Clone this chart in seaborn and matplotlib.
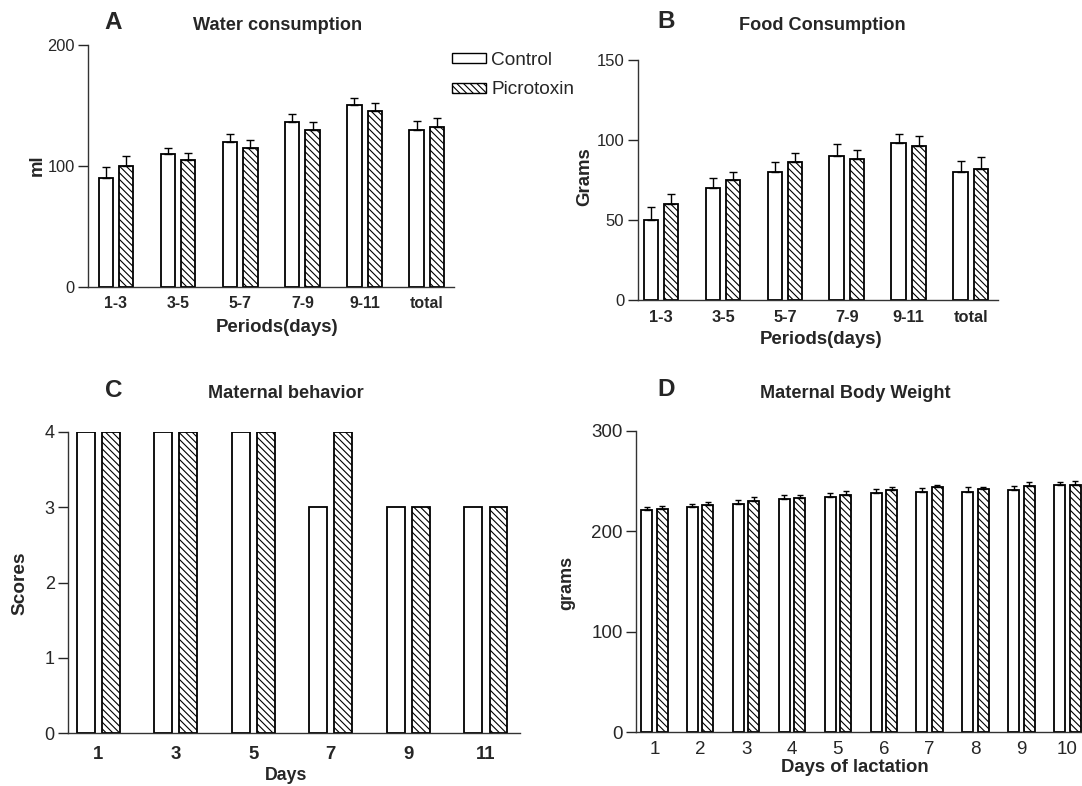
import numpy as np
import pandas as pd
import matplotlib
matplotlib.use("Agg")
import matplotlib.pyplot as plt
from matplotlib.patches import Patch
import seaborn as sns

# -----------------------------
# 1. DATA
# -----------------------------
groups = ["Control", "Picrotoxin"]

periods = ["1-3", "3-5", "5-7", "7-9", "9-11", "total"]
water_ctrl = [90, 110, 120, 136, 150, 130]
water_ctrl_err = [9, 5, 6, 7, 6, 7]
water_pic = [100, 105, 115, 130, 145, 132]
water_pic_err = [8, 6, 6, 6, 7, 8]

food_ctrl = [50, 70, 80, 90, 98, 80]
food_ctrl_err = [8, 6, 6, 7.5, 6, 7]
food_pic = [60, 75, 86, 88, 96, 82]
food_pic_err = [6, 5, 6, 6, 6.5, 7.5]

behav_days = ["1", "3", "5", "7", "9", "11"]
score_ctrl = [4, 4, 4, 3, 3, 3]
score_pic = [4, 4, 4, 4, 3, 3]

lact_days = ["1", "2", "3", "4", "5", "6", "7", "8", "9", "10"]
weight_ctrl = [221, 224, 227, 232, 234, 238, 239, 239, 241, 246]
weight_ctrl_err = [3.5, 3.5, 4, 4.5, 4, 4, 4.5, 5, 4.5, 3]
weight_pic = [222, 226, 230, 233, 236, 241, 244, 242, 245, 246]
weight_pic_err = [3.5, 3.5, 4.5, 3.5, 4, 3.5, 2.5, 2.5, 4, 4]

HATCH = "\\\\\\\\\\"

# -----------------------------
# 2. STYLE
# -----------------------------
sns.set_style("ticks")
plt.rcParams["font.family"] = ["Liberation Sans", "DejaVu Sans"]
plt.rcParams["hatch.linewidth"] = 0.8
plt.rcParams["axes.edgecolor"] = "#333333"
plt.rcParams["axes.linewidth"] = 1.0

W, H = 1082, 786
fig = plt.figure(figsize=(W / 100, H / 100), dpi=100)


def axes_px(left, top, right, bottom):
    return fig.add_axes([left / W, 1 - bottom / H, (right - left) / W, (bottom - top) / H])


def draw_panel(ax, cats, ctrl, pic, ctrl_err=None, pic_err=None,
               width=0.652, gap=0.295, capsize=2.9):
    df = pd.DataFrame({
        "cat": cats + cats,
        "value": ctrl + pic,
        "group": [groups[0]] * len(cats) + [groups[1]] * len(cats),
    })
    sns.barplot(data=df, x="cat", y="value", hue="group", hue_order=groups,
                palette={"Control": "white", "Picrotoxin": "white"},
                edgecolor="black", linewidth=1.3, width=width, gap=gap,
                errorbar=None, legend=False, ax=ax)
    for p in ax.containers[1]:
        p.set_hatch(HATCH)
    if ctrl_err is not None:
        for cont, err in zip(ax.containers, [ctrl_err, pic_err]):
            xs = [p.get_x() + p.get_width() / 2 for p in cont]
            ys = [p.get_height() for p in cont]
            ax.errorbar(xs, ys, yerr=[np.zeros(len(err)), err], fmt="none",
                        ecolor="black", elinewidth=1.0, capsize=capsize,
                        capthick=1.0, zorder=1)
    sns.despine(ax=ax)
    ax.tick_params(axis="x", length=0)
    ax.tick_params(axis="y", length=7.5, width=1.0, direction="out", pad=2)


def labels(ax, xlabel, xl, ylabel, yl, xsize=13.4, ysize=13.4):
    ax.set_xlabel(xlabel, fontsize=xsize, fontweight="bold", va="center")
    ax.set_ylabel(ylabel, fontsize=ysize, fontweight="bold", va="center")
    ax.xaxis.set_label_coords(*xl)
    ax.yaxis.set_label_coords(*yl)


def panel_text(ax, letter, lpos, title, tpos, tsize=13.1):
    ax.text(*lpos, letter, transform=ax.transAxes, ha="center", va="center",
            fontsize=17.5, fontweight="bold")
    ax.text(*tpos, title, transform=ax.transAxes, ha="center", va="center",
            fontsize=tsize, fontweight="bold")


def to_axes(ax_box, x, y):
    left, top, right, bottom = ax_box
    return ((x - left) / (right - left), (bottom - y) / (bottom - top))


# -----------------------------
# 3. PANEL A - WATER
# -----------------------------
boxA = (88, 45, 454, 286.7)
axA = axes_px(*boxA)
draw_panel(axA, periods, water_ctrl, water_pic, water_ctrl_err, water_pic_err)
axA.set_xlim(-0.45, 5.44)
axA.set_ylim(0, 200)
axA.set_yticks([0, 100, 200])
axA.tick_params(axis="y", labelsize=11.8)
axA.tick_params(axis="x", labelsize=11.4, pad=7)
for t in axA.get_xticklabels():
    t.set_fontweight("bold")
labels(axA, "Periods(days)", to_axes(boxA, 277, 328), "ml", to_axes(boxA, 37, 165))
panel_text(axA, "A", to_axes(boxA, 113, 22.5), "Water consumption", to_axes(boxA, 277.5, 26))

legend_handles = [
    Patch(facecolor="white", edgecolor="black", linewidth=1.0, label="Control"),
    Patch(facecolor="white", edgecolor="black", linewidth=1.0, hatch=HATCH, label="Picrotoxin"),
]
axA.legend(handles=legend_handles, loc="upper left", frameon=False,
           bbox_to_anchor=(451.7 / W, 1 - 52 / H), bbox_transform=fig.transFigure,
           borderpad=0, borderaxespad=0, handlelength=1.79, handleheight=0.42,
           handletextpad=0.3, labelspacing=0.65, fontsize=13.7)

# -----------------------------
# 4. PANEL B - FOOD
# -----------------------------
boxB = (637.5, 60, 998, 300)
axB = axes_px(*boxB)
draw_panel(axB, periods, food_ctrl, food_pic, food_ctrl_err, food_pic_err,
           width=0.652, gap=0.28)
axB.set_xlim(-0.38, 5.44)
axB.set_ylim(0, 150)
axB.set_yticks([0, 50, 100, 150])
axB.tick_params(axis="y", labelsize=12)
axB.tick_params(axis="x", labelsize=11.8, pad=7)
for t in axB.get_xticklabels():
    t.set_fontweight("bold")
labels(axB, "Periods(days)", to_axes(boxB, 820.7, 340), "Grams", to_axes(boxB, 585, 176.7))
panel_text(axB, "B", to_axes(boxB, 666, 21.7), "Food Consumption", to_axes(boxB, 822.7, 26))

# -----------------------------
# 5. PANEL C - MATERNAL BEHAVIOUR
# -----------------------------
boxC = (68, 431.7, 520, 733.3)
axC = axes_px(*boxC)
draw_panel(axC, behav_days, score_ctrl, score_pic, width=0.652, gap=0.29)
axC.set_xlim(-0.39, 5.44)
axC.set_ylim(0, 4)
axC.set_yticks([0, 1, 2, 3, 4])
axC.tick_params(axis="y", labelsize=13)
axC.tick_params(axis="x", labelsize=13.4, pad=9)
for t in axC.get_xticklabels():
    t.set_fontweight("bold")
labels(axC, "Days", to_axes(boxC, 285.8, 775), "Scores", to_axes(boxC, 20, 583.3),
       xsize=12.8, ysize=13.7)
panel_text(axC, "C", to_axes(boxC, 113.6, 390), "Maternal behavior", to_axes(boxC, 285.8, 393.3))

# -----------------------------
# 6. PANEL D - BODY WEIGHT
# -----------------------------
boxD = (636, 431, 1082, 732.3)
axD = axes_px(*boxD)
draw_panel(axD, lact_days, weight_ctrl, weight_pic, weight_ctrl_err, weight_pic_err,
           width=0.676, gap=0.29, capsize=2.2)
axD.set_xlim(-0.4, 9.32)
axD.set_ylim(0, 300)
axD.set_yticks([0, 100, 200, 300])
axD.tick_params(axis="y", labelsize=13.5)
axD.tick_params(axis="x", labelsize=13.5, pad=6)
labels(axD, "Days of lactation", to_axes(boxD, 855, 767), "grams", to_axes(boxD, 567, 583.3),
       xsize=13.3, ysize=13)
panel_text(axD, "D", to_axes(boxD, 666, 390), "Maternal Body Weight", to_axes(boxD, 855, 393.3))

plt.savefig("out.png", dpi=100)
